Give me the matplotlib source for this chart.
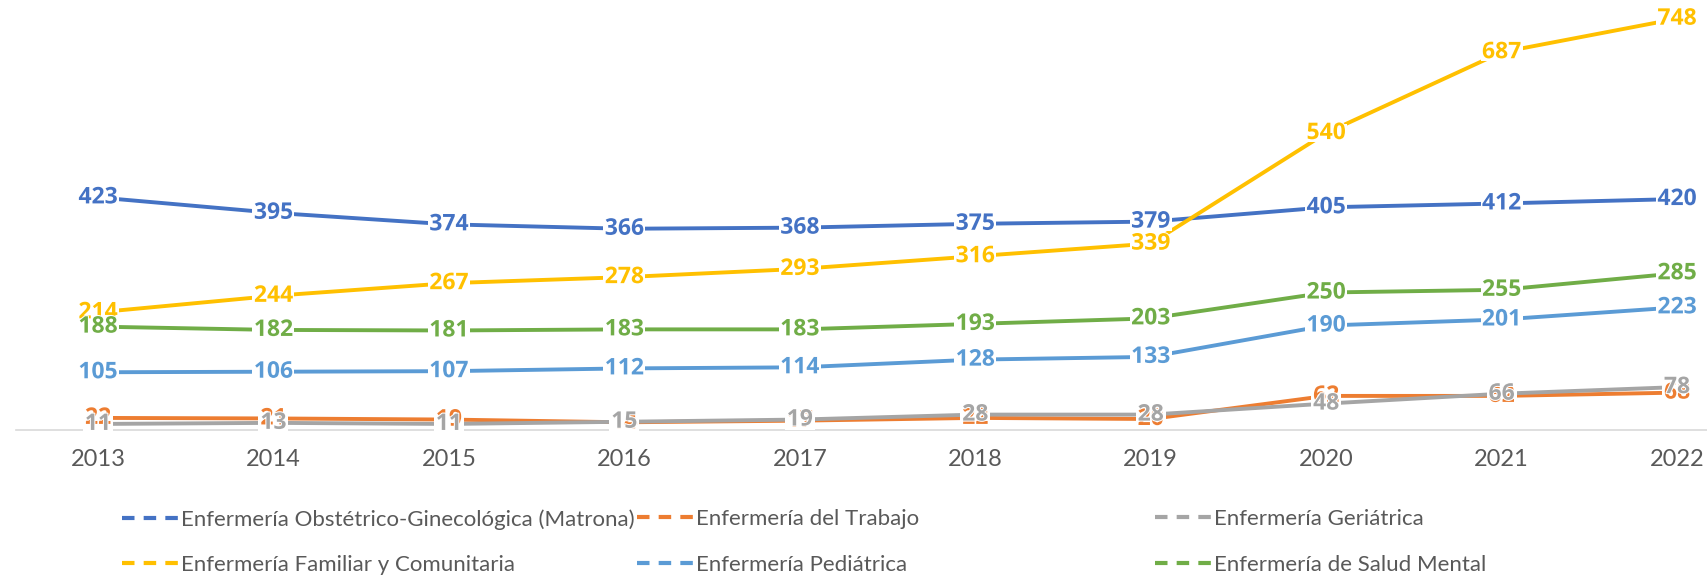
import matplotlib
matplotlib.use("Agg")
import matplotlib.pyplot as plt
import matplotlib.patheffects as pe
from matplotlib.lines import Line2D
from matplotlib.path import Path

# data
years = ["2013", "2014", "2015", "2016", "2017", "2018", "2019", "2020", "2021", "2022"]
matrona = [423, 395, 374, 366, 368, 375, 379, 405, 412, 420]
trabajo = [22, 21, 19, 14, 17, 22, 20, 62, 62, 68]
geriatrica = [11, 13, 11, 15, 19, 28, 28, 48, 66, 78]
familiar = [214, 244, 267, 278, 293, 316, 339, 540, 687, 748]
pediatrica = [105, 106, 107, 112, 114, 128, 133, 190, 201, 223]
salud_mental = [188, 182, 181, 183, 183, 193, 203, 250, 255, 285]

series = [
    ("Enfermería Obstétrico-Ginecológica (Matrona)", matrona, "#4472C4"),
    ("Enfermería del Trabajo", trabajo, "#ED7D31"),
    ("Enfermería Geriátrica", geriatrica, "#A5A5A5"),
    ("Enfermería Familiar y Comunitaria", familiar, "#FFC000"),
    ("Enfermería Pediátrica", pediatrica, "#5B9BD5"),
    ("Enfermería de Salud Mental", salud_mental, "#70AD47"),
]

plt.rcParams["font.family"] = ["Lato", "DejaVu Sans"]


def box_marker(ndigits):
    # white rectangle behind a label, sized for its number of digits (px at dpi 100)
    w = ndigits * 13 + 4
    h = 18
    r = h / w
    verts = [(-1, -r), (1, -r), (1, r), (-1, r), (-1, -r)]
    codes = [Path.MOVETO] + [Path.LINETO] * 3 + [Path.CLOSEPOLY]
    return Path(verts, codes), (w * 0.72) ** 2


fig = plt.figure(figsize=(17.08, 5.76), dpi=100)
ax = fig.add_axes([16 / 1708, 146 / 576, 1 - 16 / 1708, 430 / 576])

x = list(range(len(years)))
for name, vals, color in series:
    ax.plot(x, vals, color=color, lw=2.8, solid_capstyle="round", zorder=2)

# white boxes cut the lines under the labels
for name, vals, color in series:
    for xi, v in zip(x, vals):
        path, size = box_marker(len(str(v)))
        ax.scatter([xi], [v], marker=path, s=size, c="white", linewidths=0, zorder=4)

for name, vals, color in series:
    for xi, v in zip(x, vals):
        ax.text(xi, v, str(v), color=color, fontsize=16.5, fontweight="bold",
                family=["Open Sans", "DejaVu Sans"],
                ha="center", va="center", zorder=5,
                path_effects=[pe.withStroke(linewidth=1.5, foreground="white")])

step = (1677 - 98) / 9
ax.set_xlim(-(98 - 16) / step, (1708 - 98) / step)
ax.set_ylim(0, 782)
ax.set_xticks(x)
ax.set_xticklabels(years, fontsize=17, color="#595959")
ax.tick_params(axis="x", length=0, pad=14)
ax.set_yticks([])
for s in ["top", "right", "left"]:
    ax.spines[s].set_visible(False)
ax.spines["bottom"].set_color("#D9D9D9")
ax.spines["bottom"].set_linewidth(1.2)
ax.spines["bottom"].set_zorder(1)

# legend: three columns at fixed positions, like Excel
columns = [(series[0], series[3]), (series[1], series[4]), (series[2], series[5])]
col_x = [122, 637, 1155]
for cx, pair in zip(col_x, columns):
    handles = [Line2D([0], [0], color=c, lw=3, dashes=(3, 2.2)) for _, _, c in pair]
    labels = [n for n, _, _ in pair]
    fig.legend(handles, labels, loc="upper left", bbox_to_anchor=(cx / 1708, 1 - 509 / 576),
               frameon=False, fontsize=16, labelcolor="#595959", handlelength=2.6,
               handletextpad=0.05, labelspacing=1.15, borderaxespad=0, borderpad=0)

fig.savefig("out.png", dpi=100)
